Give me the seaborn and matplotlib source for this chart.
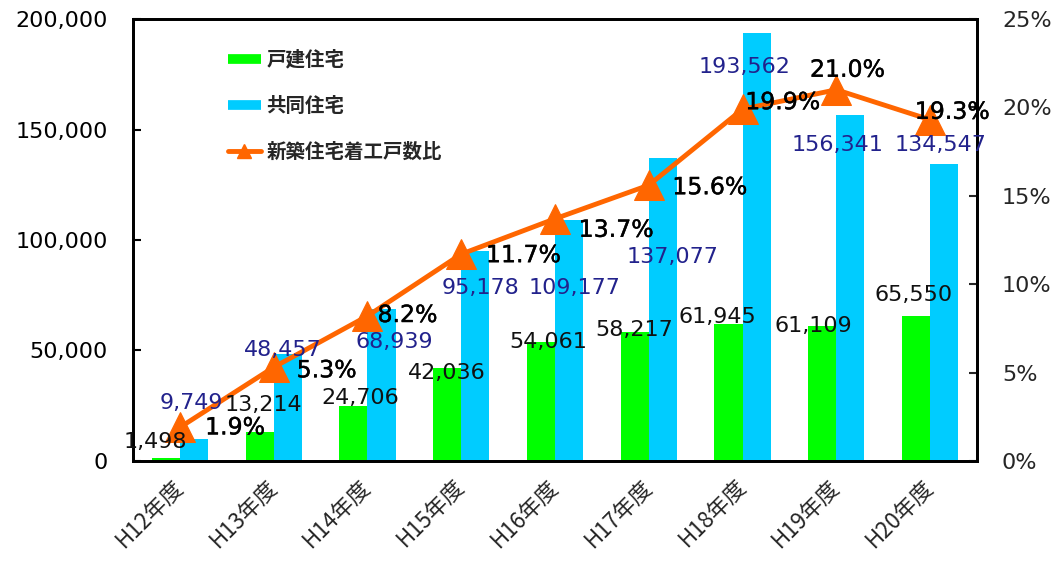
import matplotlib
matplotlib.use("Agg")
import matplotlib.pyplot as plt
import matplotlib.patheffects as pe
from matplotlib.lines import Line2D
from matplotlib.ticker import FuncFormatter
import numpy as np
import pandas as pd
import seaborn as sns

years = ["H12年度", "H13年度", "H14年度", "H15年度", "H16年度", "H17年度", "H18年度", "H19年度", "H20年度"]
detached = [1498, 13214, 24706, 42036, 54061, 58217, 61945, 61109, 65550]
apartment = [9749, 48457, 68939, 95178, 109177, 137077, 193562, 156341, 134547]
ratio = [1.9, 5.3, 8.2, 11.7, 13.7, 15.6, 19.9, 21.0, 19.3]
series_names = ["戸建住宅", "共同住宅", "新築住宅着工戸数比"]

# label nudges in pixels (dx, dy up), hand placed like the original
det_off = [(-11, 16), (4, 27), (7, 8), (0, -5), (7, 0), (-1, 2), (-11, 7), (-9, 0), (-2, 21)]
apt_off = [(-3, 36), (-5, 4), (13, -33), (5, -37), (5, -68), (10, -99), (-12, -34), (-13, -30), (-4, 19)]
pct_off = [(55, 0), (53, -3), (40, 1), (62, -1), (61, -11), (61, -2), (40, 7), (11, 20), (22, 8)]

GREEN = "#00FF00"
BLUE = "#00CCFF"
ORANGE = "#FF6600"
NAVY = "#22228C"

sns.set_style("white")
plt.rcParams["font.family"] = ["DejaVu Sans", "Noto Sans CJK JP"]
JP = ["Noto Sans CJK JP", "DejaVu Sans"]

df = pd.DataFrame({
    "year": years * 2,
    "count": detached + apartment,
    "type": [series_names[0]] * len(years) + [series_names[1]] * len(years),
})

fig = plt.figure(figsize=(10.53, 5.61), dpi=100)
ax = fig.add_axes([0.1263, 0.1783, 0.8015, 0.7878])
sns.barplot(data=df, x="year", y="count", hue="type", palette=[GREEN, BLUE],
            width=0.6, gap=0, saturation=1, legend=False, linewidth=0, ax=ax)
ax.set_ylim(0, 200000)
ax.set_xlim(-0.5, len(years) - 0.5)
ax.set_xlabel("")
ax.set_ylabel("")
ax.set_yticks(np.arange(0, 200001, 50000))
ax.yaxis.set_major_formatter(FuncFormatter(lambda v, p: f"{int(v):,}"))
ax.tick_params(axis="y", direction="in", length=6, width=1.5, labelsize=16, pad=18, colors="black")
ax.set_xticks(np.arange(len(years) - 1) + 0.5)
ax.set_xticklabels([])
ax.set_xticks(np.arange(len(years)), minor=True)
ax.set_xticklabels(years, minor=True, rotation=45, ha="right", va="center",
                   rotation_mode="anchor", family=JP, fontsize=16)
ax.tick_params(axis="x", which="major", direction="in", length=6, width=1.5)
ax.tick_params(axis="x", which="minor", length=0, pad=16)

ax2 = ax.twinx()
sns.lineplot(x=np.arange(len(years)), y=ratio, ax=ax2, color=ORANGE, lw=3.5,
             marker="^", markersize=21, markeredgecolor=ORANGE)
ax2.set_ylim(0, 25)
ax2.set_yticks(np.arange(0, 26, 5))
ax2.yaxis.set_major_formatter(FuncFormatter(lambda v, p: f"{int(v)}%"))
ax2.tick_params(axis="y", direction="in", length=6, width=1.5, labelsize=16, pad=18)
ax2.set_xlim(-0.5, len(years) - 0.5)

for a in (ax, ax2):
    for s in a.spines.values():
        s.set_visible(True)
        s.set_color("black")
        s.set_linewidth(2)

# all labels go on the twin axes so they sit above the line, as in Excel
thick = [pe.withStroke(linewidth=0.3, foreground="black")]
for i in range(len(years)):
    ax2.annotate(f"{detached[i]:,}", (i - 0.15, detached[i]), xycoords=ax.transData,
                 xytext=det_off[i], textcoords="offset pixels", ha="center", va="center",
                 fontsize=16, color="#111111")
    ax2.annotate(f"{apartment[i]:,}", (i + 0.15, apartment[i]), xycoords=ax.transData,
                 xytext=apt_off[i], textcoords="offset pixels", ha="center", va="center",
                 fontsize=16, color=NAVY)
    ax2.annotate(f"{ratio[i]:.1f}%", (i, ratio[i]), xytext=pct_off[i],
                 textcoords="offset pixels", ha="center", va="center",
                 fontsize=17, color="black", path_effects=thick)

handles = [
    Line2D([], [], color=GREEN, lw=7, solid_capstyle="butt"),
    Line2D([], [], color=BLUE, lw=7, solid_capstyle="butt"),
    Line2D([], [], color=ORANGE, lw=3.5, marker="^", markersize=10),
]
ax2.legend(handles, series_names, loc="upper left", bbox_to_anchor=(0.112, 0.93),
           frameon=False, borderpad=0, borderaxespad=0, labelspacing=1.4,
           handlelength=1.7, handletextpad=0.3,
           prop={"family": JP, "weight": "bold", "size": 14})

fig.savefig("out.png", dpi=100)
plt.close(fig)
